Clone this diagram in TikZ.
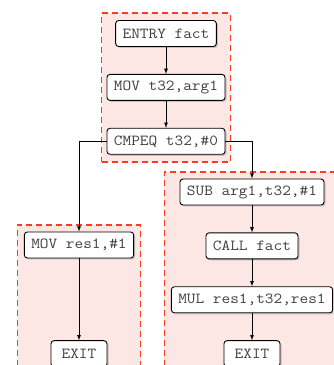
\documentclass[tikz,border=0pt]{standalone}
\usepackage{fontspec}
\setmonofont[FakeStretch=1.1]{Latin Modern Mono}
\usetikzlibrary{positioning, fit, shadows, backgrounds}

\definecolor{clusterfill}{HTML}{FDE7E5}
\definecolor{clusterline}{HTML}{FF3A1E}
\definecolor{codegray}{HTML}{404040}

\begin{document}
\begin{tikzpicture}[x=1pt, y=1pt, node distance=27pt,
                    font=\ttfamily\fontsize{15.3}{17}\selectfont]

    \tikzstyle{block} = [draw, rectangle, rounded corners=3pt, fill=white,
                         text=codegray, line width=0.9pt,
                         minimum height=26pt, minimum width=56pt, inner xsep=7pt,
                         drop shadow={shadow xshift=1.5pt, shadow yshift=-1.5pt, opacity=0.4}]
    \tikzstyle{cluster} = [draw=clusterline, fill=clusterfill, line width=1.6pt,
                           dash pattern=on 6pt off 4pt, inner sep=6.5pt]

    \useasboundingbox (0,0) rectangle (333,365);
    \clip (0,0) rectangle (333,365);

    % Entry block
    \node [block] (entry) at (166,331.5) {ENTRY fact};
    \node [block, below=of entry] (movarg) {MOV t32,arg1};
    \node [block, below=of movarg] (cmpeq) {CMPEQ t32,\#0};

    % Base case
    \node [block] (movres) at (79,120) {MOV res1,\#1};

    % Recursive case
    \node [block] (sub) at (252,173) {SUB arg1,t32,\#1};
    \node [block, below=of sub] (call) {CALL fact};
    \node [block, below=of call] (mul) {MUL res1,t32,res1};
    \node [block, below=of mul] (rexit) {EXIT};
    \node [block] (lexit) at (movres |- rexit) {EXIT};

    % Basic blocks
    \begin{scope}[on background layer]
        \node [cluster, inner xsep=5pt, inner ysep=7pt, fit=(entry) (movarg) (cmpeq)] (bbentry) {};
        \node [cluster, fit=(movres) (lexit)] (bbbase) {};
        \node [cluster, fit=(sub) (mul) (rexit)] (bbrec) {};
    \end{scope}

    % Connect the blocks with arrows
    \draw[->, >=latex, line width=0.8pt]
        (entry) edge (movarg)
        (movarg) edge (cmpeq)
        (sub) edge (call)
        (call) edge (mul)
        (mul) edge (rexit)
        (movres) edge (lexit);

    \draw[->, >=latex, line width=0.8pt] (cmpeq.west) -| (movres);
    \draw[->, >=latex, line width=0.8pt] (cmpeq.east) -| (sub);

\end{tikzpicture}
\end{document}
